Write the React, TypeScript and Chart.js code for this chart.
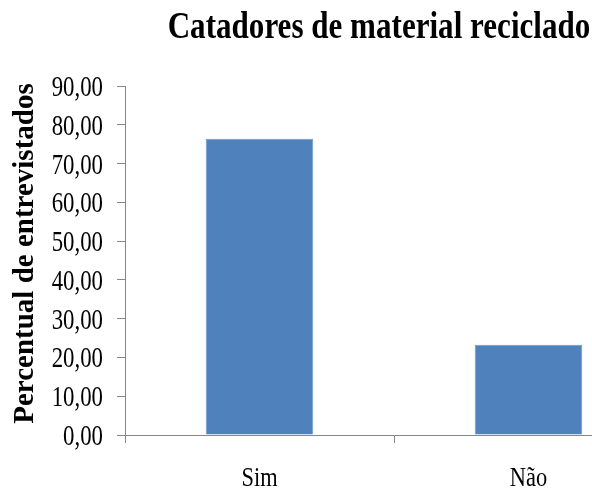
import React, { useEffect, useRef } from "react";
import { Chart, registerables } from "chart.js";

Chart.register(...registerables);

const categories: string[] = ["Sim", "Não"];
const percentValues: number[] = [76.4, 23.3];
const chartTitle = "Catadores de material reciclado";
const yAxisTitle = "Percentual de entrevistados";
const yMin = 0;
const yMax = 90;
const yStep = 10;

const CANVAS_W = 680;
const CANVAS_H = 488;
const SERIF = "'Liberation Serif', 'Times New Roman', serif";

// Draws the texts with the narrow (condensed) look of the reference
const textPlugin = {
  id: "condensedTexts",
  afterDraw(chart: any) {
    const ctx: CanvasRenderingContext2D = chart.ctx;
    const xs = chart.scales.x;
    const ys = chart.scales.y;
    ctx.save();
    ctx.fillStyle = "#000";

    // Title
    ctx.save();
    ctx.font = `bold 37px ${SERIF}`;
    ctx.textAlign = "center";
    ctx.textBaseline = "alphabetic";
    ctx.translate(379, 38);
    ctx.scale(0.84, 1);
    ctx.fillText(chartTitle, 0, 0);
    ctx.restore();

    // Y tick labels
    ctx.font = `28.5px ${SERIF}`;
    ctx.textAlign = "right";
    ctx.textBaseline = "alphabetic";
    for (const t of ys.ticks) {
      const py = ys.getPixelForValue(t.value);
      const label = Number(t.value).toFixed(2).replace(".", ",");
      ctx.save();
      ctx.translate(xs.left - 22, py + 10);
      ctx.scale(0.8, 1);
      ctx.fillText(label, 0, 0);
      ctx.restore();
    }

    // X category labels
    ctx.font = `28px ${SERIF}`;
    ctx.textAlign = "center";
    categories.forEach((c, i) => {
      const px = xs.getPixelForValue(i);
      ctx.save();
      ctx.translate(px, 486);
      ctx.scale(0.8, 1);
      ctx.fillText(c, 0, 0);
      ctx.restore();
    });

    // Y axis title
    ctx.save();
    ctx.font = `bold 29px ${SERIF}`;
    ctx.textAlign = "center";
    ctx.textBaseline = "alphabetic";
    ctx.translate(33, (ys.top + ys.bottom) / 2 - 7);
    ctx.rotate(-Math.PI / 2);
    ctx.fillText(yAxisTitle, 0, 0);
    ctx.restore();

    ctx.restore();
  },
};

export default function App() {
  const ref = useRef<HTMLCanvasElement | null>(null);

  useEffect(() => {
    if (!ref.current) return;
    const chart = new Chart(ref.current, {
      type: "bar",
      data: {
        labels: categories,
        datasets: [
          {
            data: percentValues,
            backgroundColor: "#4F81BD",
            borderColor: "#6A97CE",
            borderWidth: 1,
            barPercentage: 0.4,
            categoryPercentage: 1,
          },
        ],
      },
      plugins: [textPlugin],
      options: {
        responsive: false,
        animation: false,
        devicePixelRatio: 1,
        layout: { padding: { left: 0, right: CANVAS_W - 663, top: 86, bottom: 0 } },
        plugins: {
          legend: { display: false },
          tooltip: { enabled: false },
          title: { display: false },
        },
        scales: {
          x: {
            grid: {
              display: true,
              drawOnChartArea: false,
              drawTicks: true,
              tickLength: 8,
              color: "#868686",
              offset: true,
            },
            border: { display: true, color: "#868686", width: 1 },
            ticks: {
              color: "rgba(0,0,0,0)",
              font: { family: SERIF, size: 23 },
              padding: 20,
              maxRotation: 0,
            },
            afterFit: (s: any) => {
              s.height = 53;
            },
          },
          y: {
            min: yMin,
            max: yMax,
            grid: {
              display: true,
              drawOnChartArea: false,
              drawTicks: true,
              tickLength: 8,
              color: "#868686",
            },
            border: { display: true, color: "#868686", width: 1 },
            ticks: {
              stepSize: yStep,
              color: "rgba(0,0,0,0)",
              font: { family: SERIF, size: 23 },
              padding: 14,
            },
            afterFit: (s: any) => {
              s.width = 125;
            },
          },
        },
      },
    });
    return () => chart.destroy();
  }, []);

  return (
    <div
      style={{
        position: "fixed",
        left: 0,
        top: 0,
        width: 592,
        height: 488,
        overflow: "hidden",
        background: "#fff",
      }}
    >
      <canvas ref={ref} width={CANVAS_W} height={CANVAS_H} style={{ display: "block" }} />
    </div>
  );
}
